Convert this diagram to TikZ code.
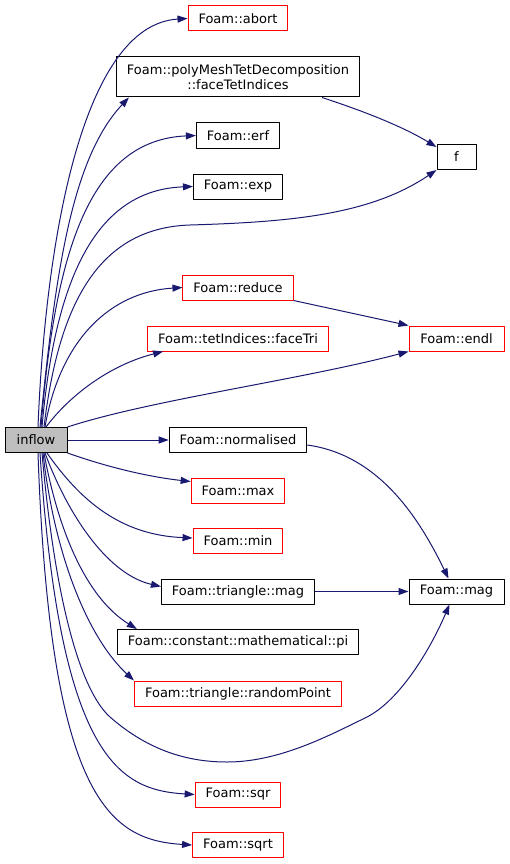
\documentclass[tikz,border=0pt]{standalone}
\usepackage{fontspec}
\setmainfont{DejaVu Sans}
\usetikzlibrary{arrows.meta}
\definecolor{edgeblue}{RGB}{25,25,112}
\begin{document}
\begin{tikzpicture}[x=1pt,y=-1pt,line join=round]
\tikzstyle{fonc} = [draw=black,line width=1pt,fill=white,minimum height=25pt,inner xsep=10.5pt,inner ysep=0pt,font=\fontsize{13}{15.5}\selectfont]
\tikzstyle{foncrouge} = [fonc,draw=red]
\tikzstyle{appel} = [draw=edgeblue,line width=1pt,-{Triangle[length=10pt,width=7pt]}]
\useasboundingbox (0,0) rectangle (509,864);
%noeud de départ
\node[fonc,fill=gray!50,minimum width=62pt](inflow) at (36,440){inflow};
%fonctions appelées
\node[foncrouge](abort) at (238,18.5){Foam::abort};
\node[fonc,minimum height=40pt,align=center](poly) at (238,77){Foam::polyMeshTetDecomposition\\::faceTetIndices};
\node[fonc](erf) at (238,135.5){Foam::erf};
\node[fonc](exp) at (238,186.5){Foam::exp};
\node[fonc,minimum width=39pt](f) at (456.5,157){f};
\node[foncrouge](reduce) at (238,287.5){Foam::reduce};
\node[foncrouge](faceTri) at (238,338.5){Foam::tetIndices::faceTri};
\node[foncrouge,minimum width=95pt](endl) at (456.5,338.5){Foam::endl};
\node[fonc](normalised) at (238,440){Foam::normalised};
\node[foncrouge](max) at (238,490.5){Foam::max};
\node[foncrouge](min) at (238,541){Foam::min};
\node[fonc](tmag) at (238,591.5){Foam::triangle::mag};
\node[fonc,minimum width=95pt](mag) at (456.5,591.5){Foam::mag};
\node[fonc](pi) at (238,642){Foam::constant::mathematical::pi};
\node[foncrouge](randomPoint) at (238,693.5){Foam::triangle::randomPoint};
\node[foncrouge](sqr) at (238,794.5){Foam::sqr};
\node[foncrouge](sqrt) at (238,845){Foam::sqrt};
%appels vers le haut
\draw[appel] ([xshift=2pt]inflow.north) .. controls (45,250) and (80,25) .. (abort.west);
\draw[appel] ([xshift=4pt]inflow.north) .. controls (55,280) and (70,160) .. ([xshift=13pt]poly.south west);
\draw[appel] ([xshift=5pt]inflow.north) .. controls (55,250) and (90,140) .. (erf.west);
\draw[appel] ([xshift=6pt]inflow.north) .. controls (55,280) and (95,190) .. (exp.west);
\draw[appel] ([xshift=8pt]inflow.north) .. controls (58,310) and (95,228) .. (190,225) .. controls (290,222) and (370,215) .. (f.south west);
\draw[appel] ([xshift=9pt]inflow.north) .. controls (60,340) and (110,292) .. (reduce.west);
\draw[appel] ([xshift=10pt]inflow.north) .. controls (70,395) and (110,365) .. ([xshift=16pt]faceTri.south west);
\draw[appel] (inflow.north east) .. controls (150,400) and (300,380) .. (endl.south west);
\draw[appel] (inflow.east) -- (normalised.west);
%appels vers le bas
\draw[appel] (inflow.south east) .. controls (110,468) and (150,477) .. ([yshift=-4pt]max.north west);
\draw[appel] ([xshift=11pt]inflow.south) .. controls (80,500) and (120,535) .. ([yshift=-10pt]min.north west);
\draw[appel] ([xshift=9pt]inflow.south) .. controls (70,520) and (110,575) .. ([yshift=-8pt]tmag.north west);
\draw[appel] ([xshift=8pt]inflow.south) .. controls (60,540) and (90,600) .. ([xshift=20pt]pi.north west);
\draw[appel] ([xshift=7pt]inflow.south) .. controls (55,560) and (90,640) .. (randomPoint.north west);
\draw[appel] ([xshift=6pt]inflow.south) .. controls (55,600) and (80,690) .. (110,717) .. controls (150,752) and (190,762) .. (227,762) .. controls (280,762) and (330,735) .. (367,717) .. controls (400,700) and (430,650) .. ([xshift=-7pt]mag.south);
\draw[appel] ([xshift=4pt]inflow.south) .. controls (60,760) and (120,790) .. (sqr.west);
\draw[appel] ([xshift=2pt]inflow.south) .. controls (50,800) and (110,840) .. (sqrt.west);
%appels secondaires
\draw[appel] ([xshift=-38pt]poly.south east) .. controls (360,110) and (400,125) .. ([yshift=-3pt]f.north west);
\draw[appel] (reduce.south east) -- (endl.north west);
\draw[appel] ([yshift=-5pt]normalised.east) .. controls (380,455) and (420,520) .. ([xshift=-8pt]mag.north);
\draw[appel] (tmag.east) -- (mag.west);
\end{tikzpicture}
\end{document}
